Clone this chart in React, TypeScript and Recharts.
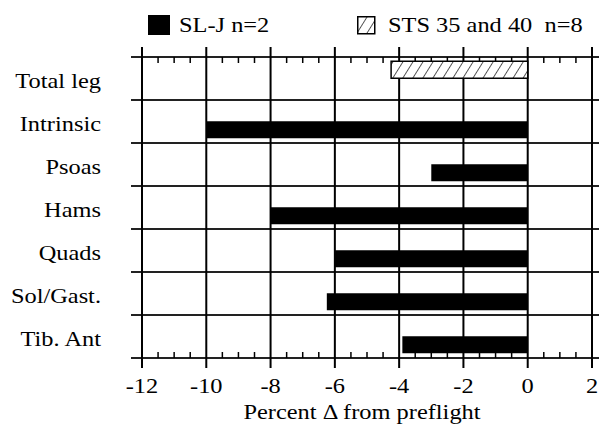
import React from "react";
import { BarChart, Bar, XAxis, YAxis, CartesianGrid, Legend, Label } from "recharts";

const CATEGORIES = ["Total leg", "Intrinsic", "Psoas", "Hams", "Quads", "Sol/Gast.", "Tib. Ant"];
const SLJ_VALUES = [null, -10, -3, -8, -6, -6.25, -3.9];
const STS_VALUES = [-4.25, null, null, null, null, null, null];
const SLJ_NAME = "SL-J n=2";
const STS_NAME = "STS 35 and 40  n=8";
const X_MIN = -12;
const X_MAX = 2;
const MAJOR_TICKS = [-12, -10, -8, -6, -4, -2, 0, 2];
const MINOR_TICKS = [
  -11.5, -11, -10.5, -9.5, -9, -8.5, -7.5, -7, -6.5, -5.5, -5, -4.5,
  -3.5, -3, -2.5, -1.5, -1, -0.5, 0.5, 1, 1.5,
];
const X_LABEL = "Percent \u0394 from preflight";

const data = CATEGORIES.map((name, i) => ({ name, slj: SLJ_VALUES[i], sts: STS_VALUES[i] }));
const AXIS_TICKS = [...MAJOR_TICKS, ...MINOR_TICKS];

// the source figure is stretched sideways, so text gets the same stretch
const SX = 1.22;
const FONT = "Liberation Serif, DejaVu Serif, serif";

const SText = ({ anchor, children }: { anchor?: string; children: React.ReactNode }) => (
  <text
    transform={`scale(${SX},1)`}
    textAnchor={anchor ?? "start"}
    fontFamily={FONT}
    fontSize={20}
    fill="#000"
    style={{ whiteSpace: "pre" }}
  >
    {children}
  </text>
);

const isMajor = (v: number) => MAJOR_TICKS.some((t) => Math.abs(t - v) < 0.01);

const XTick = (props: any) => {
  const { x, y, payload } = props;
  if (!isMajor(Number(payload.value))) return <g />;
  return (
    <g transform={`translate(${x},${y})`}>
      <SText anchor="middle">{payload.value}</SText>
    </g>
  );
};

const YTick = (props: any) => {
  const { x, y, payload } = props;
  return (
    <g transform={`translate(${x},${y + 9.5})`}>
      <SText anchor="end">{payload.value}</SText>
    </g>
  );
};

const XLabel = (props: any) => {
  const vb = props.viewBox;
  return (
    <g transform={`translate(${vb.x + vb.width / 2 - 5},${vb.y + 61})`}>
      <SText anchor="middle">{X_LABEL}</SText>
    </g>
  );
};

const HLine = (props: any) => (
  <line key={props.key} x1={props.x1 - 11} x2={props.x2 + 7} y1={props.y1} y2={props.y2} stroke="#222" strokeWidth={2} />
);

const VLine = (props: any) => {
  const { x1, y1, y2, x, width, index } = props;
  const v =
    typeof x === "number" && typeof width === "number" && width > 0
      ? X_MIN + ((x1 - x) / width) * (X_MAX - X_MIN)
      : AXIS_TICKS[index];
  if (isMajor(v)) {
    return <line key={props.key} x1={x1} x2={x1} y1={y1 - 10} y2={y2 + 10} stroke="#000" strokeWidth={2} />;
  }
  return (
    <g key={props.key}>
      <line x1={x1} x2={x1} y1={y1} y2={y1 + 6} stroke="#000" strokeWidth={1.5} />
      <line x1={x1} x2={x1} y1={y2 - 6} y2={y2} stroke="#000" strokeWidth={1.5} />
    </g>
  );
};

const LEGEND_ORDER = ["slj", "sts"];
const LEGEND_X = [148, 357];

const renderLegend = (props: any) => {
  const items = [...(props.payload ?? [])].sort(
    (a: any, b: any) => LEGEND_ORDER.indexOf(a.dataKey) - LEGEND_ORDER.indexOf(b.dataKey)
  );
  return (
    <svg width={599} height={30} style={{ display: "block" }}>
      {items.map((entry: any, i: number) => {
        const x0 = LEGEND_X[i];
        const hatched = entry.dataKey === "sts";
        return (
          <g key={entry.dataKey}>
            {hatched ? (
              <rect x={x0 + 0.75} y={6.75} width={17} height={17} fill="url(#hatch)" stroke="#000" strokeWidth={1.5} />
            ) : (
              <rect x={x0} y={5} width={22} height={20} fill={entry.color} />
            )}
            <g transform={`translate(${x0 + 31},21.7)`}>
              <SText>{entry.value}</SText>
            </g>
          </g>
        );
      })}
    </svg>
  );
};

export default function App() {
  return (
    <div>
      <style>{"body{margin:0;overflow:hidden}"}</style>
      <BarChart
        width={599}
        height={426}
        data={data}
        layout="vertical"
        barCategoryGap="10%"
        barGap={0}
        margin={{ top: 27, right: 7, left: 0, bottom: 8 }}
      >
        <defs>
          <pattern id="hatch" patternUnits="userSpaceOnUse" width={8.5} height={8.5} patternTransform="rotate(32)">
            <rect width={8.5} height={8.5} fill="#fff" />
            <line x1={0} y1={0} x2={0} y2={8.5} stroke="#000" strokeWidth={1.3} />
          </pattern>
        </defs>
        <Legend verticalAlign="top" content={renderLegend} wrapperStyle={{ top: 10, left: 0, width: 599, height: 30 }} />
        <CartesianGrid
          horizontal={HLine}
          vertical={VLine}
          syncWithTicks
          horizontalCoordinatesGenerator={({ offset }: any) =>
            [...CATEGORIES, ""].map((_, i) => offset.top + (i * offset.height) / CATEGORIES.length)
          }
        />
        <XAxis
          type="number"
          domain={[X_MIN, X_MAX]}
          ticks={AXIS_TICKS}
          interval={0}
          height={60}
          tickSize={10}
          tickMargin={25}
          tickLine={false}
          axisLine={false}
          tick={<XTick />}
        >
          <Label content={<XLabel />} />
        </XAxis>
        <YAxis
          type="category"
          dataKey="name"
          width={142}
          tickSize={0}
          tickMargin={41}
          tickLine={false}
          axisLine={false}
          interval={0}
          tick={<YTick />}
        />
        <Bar dataKey="sts" name={STS_NAME} fill="url(#hatch)" stroke="#000" strokeWidth={1.5} isAnimationActive={false} />
        <Bar dataKey="slj" name={SLJ_NAME} fill="#000" isAnimationActive={false} />
      </BarChart>
    </div>
  );
}
